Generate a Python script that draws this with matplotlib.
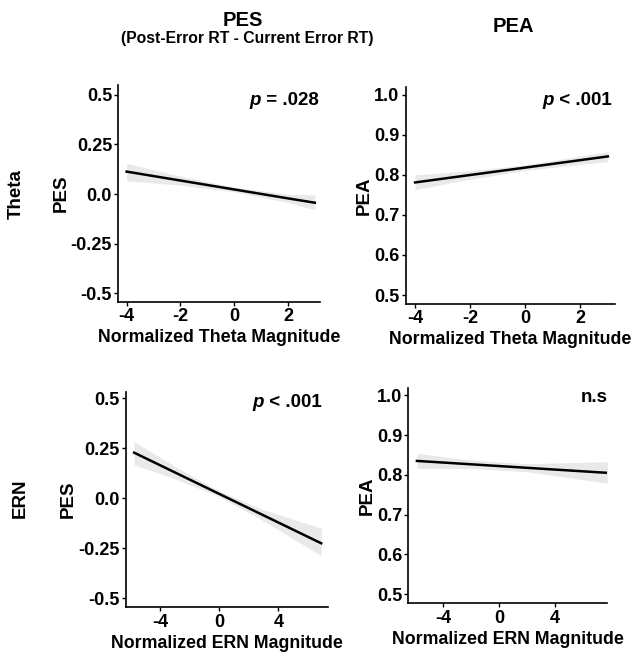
import matplotlib
matplotlib.use("Agg")
import matplotlib.pyplot as plt

plt.rcParams['font.family'] = ['Liberation Sans', 'DejaVu Sans']
plt.rcParams['font.weight'] = 'bold'

# ---- data ----
# Theta -> PES
theta_pes_x = [-4, -2, 0, 2, 3]
theta_pes_fit = [0.113, 0.068, 0.023, -0.022, -0.044]
theta_pes_lo = [0.067, 0.045, 0.011, -0.043, -0.080]
theta_pes_hi = [0.155, 0.090, 0.035, -0.001, -0.005]

# Theta -> PEA
theta_pea_x = [-4, -2, 0, 2, 3]
theta_pea_fit = [0.781, 0.7996, 0.8181, 0.8367, 0.846]
theta_pea_lo = [0.763, 0.789, 0.811, 0.826, 0.833]
theta_pea_hi = [0.800, 0.810, 0.825, 0.847, 0.858]

# ERN -> PES
ern_pes_x = [-5.75, -3, 0, 3, 6.9]
ern_pes_fit = [0.228, 0.1295, 0.0221, -0.0853, -0.225]
ern_pes_lo = [0.167, 0.098, 0.008, -0.113, -0.287]
ern_pes_hi = [0.283, 0.160, 0.036, -0.057, -0.150]

# ERN -> PEA
ern_pea_x = [-5.9, -2, 2, 7.8]
ern_pea_fit = [0.835, 0.8265, 0.8177, 0.805]
ern_pea_lo = [0.816, 0.816, 0.808, 0.779]
ern_pea_hi = [0.854, 0.837, 0.828, 0.833]

pes_ticks = [-0.5, -0.25, 0.0, 0.25, 0.5]
pes_ticklabels = ['-0.5', '-0.25', '0.0', '0.25', '0.5']
pea_ticks = [0.5, 0.6, 0.7, 0.8, 0.9, 1.0]
pea_ticklabels = ['0.5', '0.6', '0.7', '0.8', '0.9', '1.0']
theta_xticks = [-4, -2, 0, 2]
ern_xticks = [-4, 0, 4]

col_titles = ['PES', 'PEA']
col_subtitle = '(Post-Error RT - Current Error RT)'
row_titles = ['Theta', 'ERN']
p_labels = [('p', ' = .028'), ('p', ' < .001'), ('p', ' < .001'), (None, 'n.s')]

# ---- figure ----
fig = plt.figure(figsize=(6.37, 6.52), dpi=100)

panels = [
    dict(pos=[0.1857, 0.5368, 0.3166, 0.3328], x=theta_pes_x, fit=theta_pes_fit,
         lo=theta_pes_lo, hi=theta_pes_hi, xlim=(-4.31, 3.19), ylim=(-0.545, 0.55),
         yt=pes_ticks, ytl=pes_ticklabels, xt=theta_xticks, ylab='PES',
         xlab='Normalized Theta Magnitude', ptxt=(0.995, 0.908)),
    dict(pos=[0.6369, 0.5337, 0.3286, 0.3333], x=theta_pea_x, fit=theta_pea_fit,
         lo=theta_pea_lo, hi=theta_pea_hi, xlim=(-4.34, 3.26), ylim=(0.4775, 1.02),
         yt=pea_ticks, ytl=pea_ticklabels, xt=theta_xticks, ylab='PEA',
         xlab='Normalized Theta Magnitude', ptxt=(0.984, 0.916)),
    dict(pos=[0.1978, 0.0686, 0.3171, 0.3307], x=ern_pes_x, fit=ern_pes_fit,
         lo=ern_pes_lo, hi=ern_pes_hi, xlim=(-6.3, 7.36), ylim=(-0.545, 0.533),
         yt=pes_ticks, ytl=pes_ticklabels, xt=ern_xticks, ylab='PES',
         xlab='Normalized ERN Magnitude', ptxt=(0.969, 0.930)),
    dict(pos=[0.641, 0.0747, 0.3124, 0.330], x=ern_pea_x, fit=ern_pea_fit,
         lo=ern_pea_lo, hi=ern_pea_hi, xlim=(-6.52, 7.8), ylim=(0.477, 1.018),
         yt=pea_ticks, ytl=pea_ticklabels, xt=ern_xticks, ylab='PEA',
         xlab='Normalized ERN Magnitude', ptxt=(1.0, 0.936)),
]

for i, P in enumerate(panels):
    ax = fig.add_axes(P['pos'])
    ax.fill_between(P['x'], P['lo'], P['hi'], color='#e9e9e9', linewidth=0, zorder=1)
    ax.plot(P['x'], P['fit'], color='black', linewidth=1.8, zorder=2)
    ax.set_xlim(*P['xlim'])
    ax.set_ylim(*P['ylim'])
    ax.set_yticks(P['yt'])
    ax.set_yticklabels(P['ytl'])
    ax.set_xticks(P['xt'])
    ax.set_xticklabels([str(v) for v in P['xt']])
    for s in ['top', 'right']:
        ax.spines[s].set_visible(False)
    for s in ['left', 'bottom']:
        ax.spines[s].set_linewidth(1.2)
        ax.spines[s].set_color('black')
    ax.tick_params(axis='both', length=3, width=1, color='black', labelsize=13,
                   pad=1.5, labelcolor='black')
    for lab in ax.get_xticklabels() + ax.get_yticklabels():
        lab.set_fontweight('bold')
    ax.set_ylabel(P['ylab'], fontsize=13.5, fontweight='bold', labelpad=1)
    ax.set_xlabel(P['xlab'], fontsize=12.8, fontweight='bold', labelpad=3)
    pl = p_labels[i]
    px, py = P['ptxt']
    t = ax.text(px, py, pl[1], transform=ax.transAxes, ha='right', va='baseline',
                fontsize=13.5, fontweight='bold')
    if pl[0]:
        ax.annotate(pl[0], xy=(0, 0), xycoords=t, ha='right', va='bottom',
                    fontsize=13.5, fontweight='bold', fontstyle='italic')

# column titles
fig.text(243 / 637, 1 - 20 / 652, col_titles[0], ha='center', va='center',
         fontsize=14.5, fontweight='bold')
fig.text(247 / 637, 1 - 38 / 652, col_subtitle, ha='center', va='center',
         fontsize=11.3, fontweight='bold')
fig.text(513 / 637, 1 - 27 / 652, col_titles[1], ha='center', va='center',
         fontsize=14.5, fontweight='bold')

# row titles
fig.text(16.5 / 637, 1 - 194 / 652, row_titles[0], ha='center', va='center',
         rotation=90, fontsize=13.5, fontweight='bold')
fig.text(20 / 637, 1 - 498 / 652, row_titles[1], ha='center', va='center',
         rotation=90, fontsize=13.5, fontweight='bold')

fig.savefig('out.png', dpi=100, facecolor='white')
